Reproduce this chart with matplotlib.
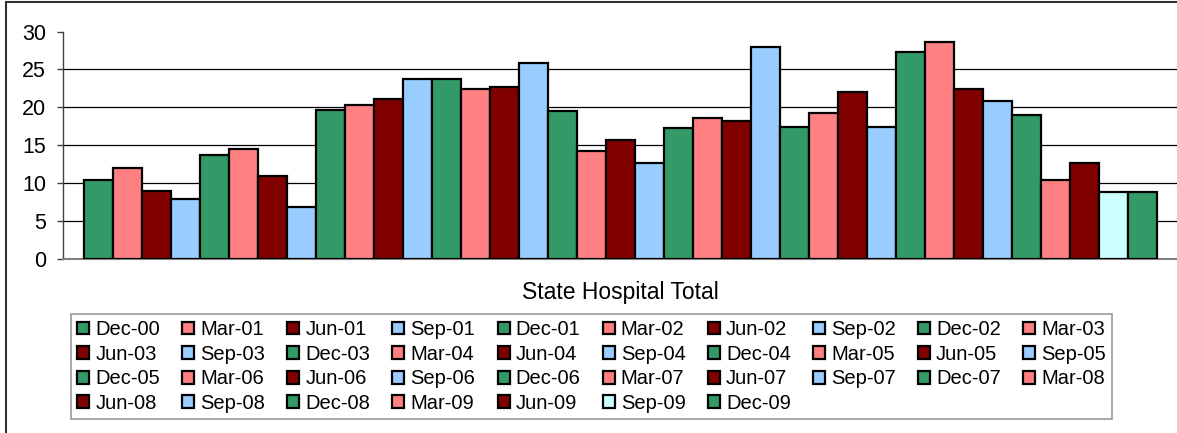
import matplotlib.pyplot as plt
from matplotlib.patches import Rectangle

plt.rcParams['font.family'] = ['Liberation Sans', 'DejaVu Sans']

quarters = ['Dec-00', 'Mar-01', 'Jun-01', 'Sep-01', 'Dec-01', 'Mar-02', 'Jun-02', 'Sep-02',
            'Dec-02', 'Mar-03', 'Jun-03', 'Sep-03', 'Dec-03', 'Mar-04', 'Jun-04', 'Sep-04',
            'Dec-04', 'Mar-05', 'Jun-05', 'Sep-05', 'Dec-05', 'Mar-06', 'Jun-06', 'Sep-06',
            'Dec-06', 'Mar-07', 'Jun-07', 'Sep-07', 'Dec-07', 'Mar-08', 'Jun-08', 'Sep-08',
            'Dec-08', 'Mar-09', 'Jun-09', 'Sep-09', 'Dec-09']
values = [10.5, 12.0, 9.0, 7.9, 13.8, 14.5, 11.0, 6.9,
          19.7, 20.3, 21.1, 23.8, 23.8, 22.4, 22.7, 25.9,
          19.5, 14.2, 15.7, 12.7, 17.3, 18.6, 18.2, 27.9,
          17.4, 19.3, 22.0, 17.4, 27.3, 28.6, 22.4, 20.9,
          19.0, 10.4, 12.7, 8.9, 8.9]
cycle_colors = ['#339966', '#FF8080', '#800000', '#99CCFF']
special_colors = {'Sep-09': '#CCFFFF'}

W, H = 1177, 433
fig = plt.figure(figsize=(W / 100, H / 100), dpi=100)

# plot area in pixel units
left_px, right_px, top_px, bot_px = 62.7, 1178, 31.5, 259.3
ax = fig.add_axes([left_px / W, 1 - bot_px / H, (right_px - left_px) / W, (bot_px - top_px) / H])

bars = []
for i, (q, v) in enumerate(zip(quarters, values)):
    c = special_colors.get(q, cycle_colors[i % 4])
    b = ax.bar(i, v, width=1.0, color=c, edgecolor='black', linewidth=1.6, label=q, zorder=3)
    bars.append(b)

gap = 0.73
ax.set_xlim(-0.5 - gap, len(values) - 0.5 + gap)
ax.set_ylim(0, 30)
ax.set_yticks(range(0, 31, 5))
ax.set_xticks([])
for y in range(5, 30, 5):
    ax.axhline(y, color='black', linewidth=0.9, zorder=1)

for s in ['top', 'right']:
    ax.spines[s].set_visible(False)
ax.spines['left'].set_color('#404040')
ax.spines['bottom'].set_color('#808080')
ax.spines['left'].set_linewidth(1.0)
ax.spines['bottom'].set_linewidth(1.5)
ax.tick_params(axis='y', length=4, width=1.0, color='#404040', pad=8, labelsize=15.5)

fig.text(620 / W, 1 - 293 / H, 'State Hospital Total', ha='center', va='center', fontsize=16.5)

# legend is filled column by column, so reorder to read row by row
ncol = 10
order = [j + ncol * r for j in range(ncol) for r in range(4) if j + ncol * r < len(bars)]
leg = fig.legend([bars[k] for k in order], [quarters[k] for k in order],
                 loc='upper left', bbox_to_anchor=(71 / W, 1 - 314 / H), ncol=ncol,
                 fontsize=14.5, frameon=True, fancybox=False, edgecolor='#808080',
                 handlelength=0.6, handleheight=0.6, handletextpad=0.3,
                 columnspacing=1.1, labelspacing=0.28, borderpad=0.3, borderaxespad=0)
leg.get_frame().set_linewidth(1.2)

# outer chart border (right and bottom edges fall outside the image)
fig.patches.append(Rectangle((6 / W, -0.05), 1.1, 1 - 2 / H + 0.05, transform=fig.transFigure,
                             fill=False, edgecolor='#303030', linewidth=1.5))

fig.savefig('out.png', dpi=100)
